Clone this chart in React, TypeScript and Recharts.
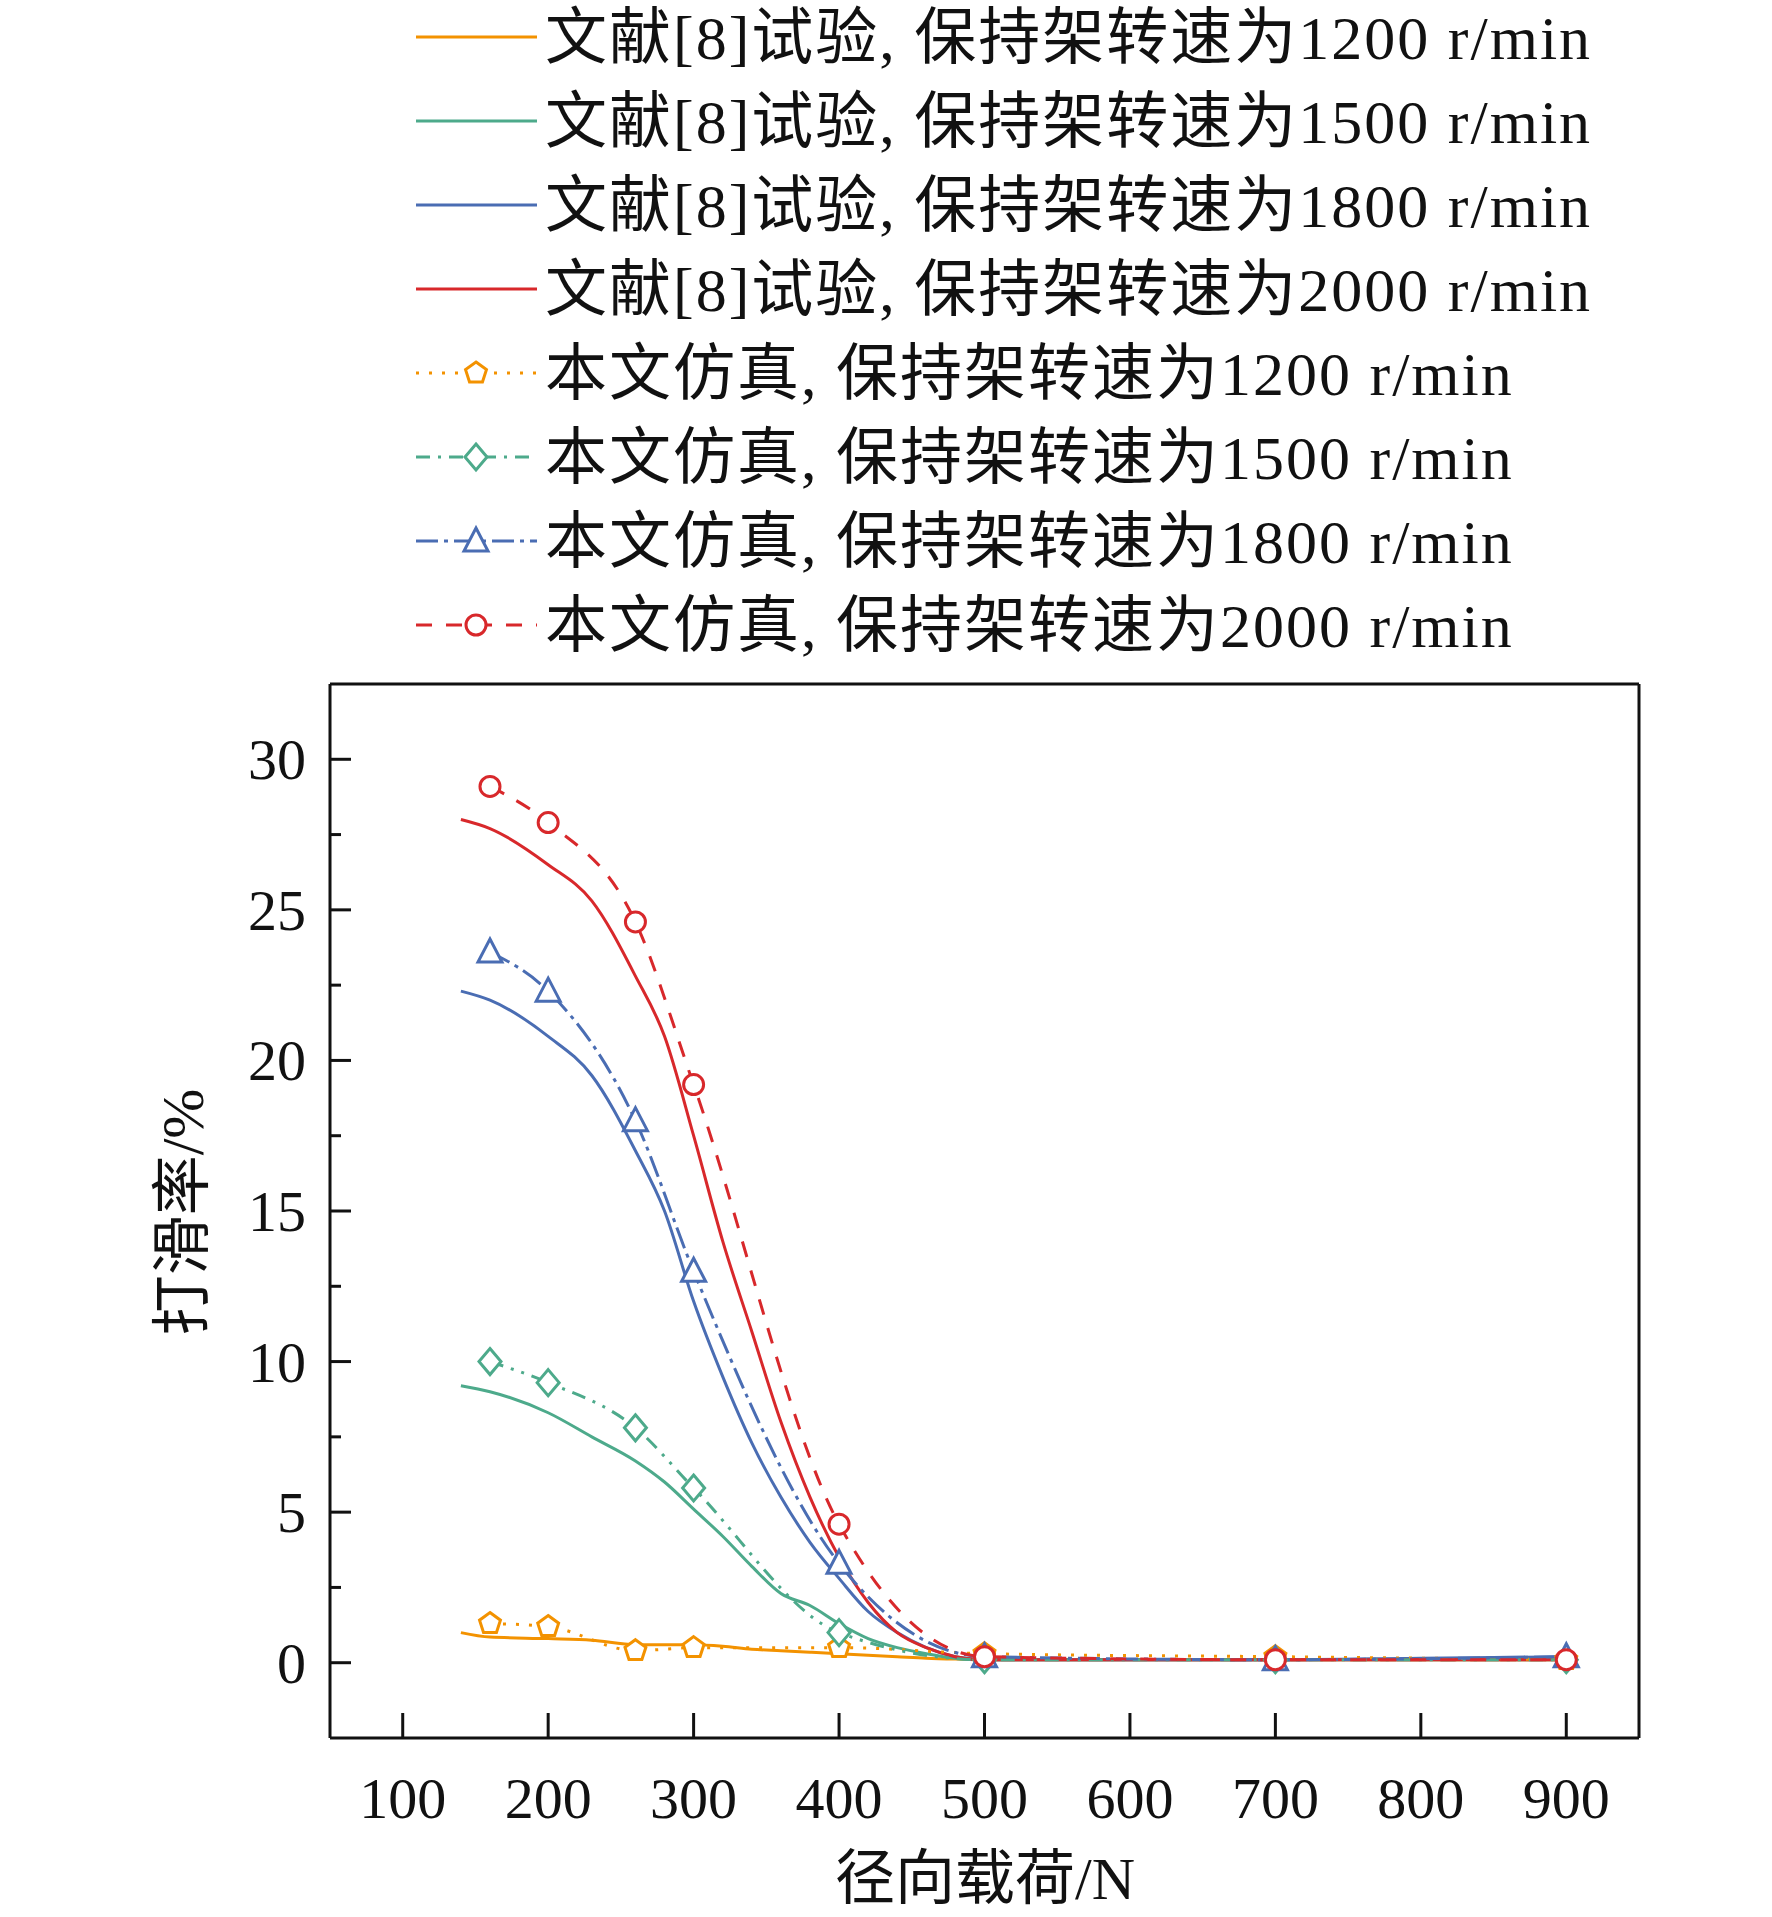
import React from 'react'
import { ComposedChart, Line, XAxis, YAxis } from 'recharts'

const simX = [160, 200, 260, 300, 400, 500, 700, 900]
const sim1200 = [1.3, 1.2, 0.4, 0.5, 0.5, 0.3, 0.2, 0.1]
const sim1500 = [10, 9.3, 7.8, 5.8, 1.0, 0.1, 0.1, 0.1]
const sim1800 = [23.6, 22.3, 18, 13, 3.3, 0.2, 0.1, 0.2]
const sim2000 = [29.1, 27.9, 24.6, 19.2, 4.6, 0.2, 0.1, 0.1]

const expX = [140, 160, 200, 230, 260, 280, 300, 320, 340, 360, 380, 400, 420, 440, 460, 480, 500, 600, 700, 800, 900]
const exp2000 = [28, 27.7, 26.5, 25.3, 22.8, 20.8, 17.5, 14, 11, 8, 5.5, 3.5, 2, 1, 0.5, 0.2, 0.1, 0.1, 0.1, 0.1, 0.1]
const exp1800 = [22.3, 22, 20.8, 19.5, 17, 15, 12, 9.5, 7.3, 5.5, 4, 2.8, 1.7, 1, 0.5, 0.2, 0.1, 0.1, 0.1, 0.15, 0.2]
const exp1500 = [9.2, 9, 8.3, 7.5, 6.7, 6, 5.1, 4.2, 3.2, 2.3, 1.9, 1.3, 0.8, 0.5, 0.3, 0.15, 0.1, 0.1, 0.1, 0.1, 0.1]
const exp1200 = [1, 0.85, 0.8, 0.75, 0.6, 0.6, 0.6, 0.55, 0.45, 0.4, 0.35, 0.3, 0.25, 0.2, 0.15, 0.12, 0.1, 0.1, 0.1, 0.1, 0.1]

const xTicks = [100, 200, 300, 400, 500, 600, 700, 800, 900]
const yTicks = [0, 2.5, 5, 7.5, 10, 12.5, 15, 17.5, 20, 22.5, 25, 27.5, 30]

const C1200 = '#F39200'
const C1500 = '#4DAA8B'
const C1800 = '#4A6DB3'
const C2000 = '#D8282B'

const FONT = '"Liberation Serif", "Noto Sans CJK SC", serif'
const zip = (xs: number[], ys: number[]) => xs.map((x, i) => ({ x, y: ys[i] }))

const LEFT = 330, RIGHT = 1639, TOP = 684, BOTTOM = 1738

type Marker = 'pentagon' | 'diamond' | 'triangle' | 'circle'
function shape(kind: Marker, cx: number, cy: number, color: string, key?: string) {
  const r = 11
  const common = { fill: '#fff', stroke: color, strokeWidth: 3 }
  if (kind === 'circle') return <circle key={key} cx={cx} cy={cy} r={r - 1} {...common} />
  if (kind === 'diamond') return <polygon key={key} points={`${cx},${cy - r - 2} ${cx + r},${cy} ${cx},${cy + r + 2} ${cx - r},${cy}`} {...common} />
  if (kind === 'triangle') return <polygon key={key} points={`${cx},${cy - r - 2} ${cx + r + 1},${cy + r - 1} ${cx - r - 1},${cy + r - 1}`} {...common} />
  const pts = [0, 1, 2, 3, 4].map(i => {
    const a = -Math.PI / 2 + (i * 2 * Math.PI) / 5
    return `${cx + r * Math.cos(a)},${cy + r * Math.sin(a)}`
  }).join(' ')
  return <polygon key={key} points={pts} {...common} />
}
const dot = (kind: Marker, color: string) => (p: any) => shape(kind, p.cx, p.cy, color, `${p.index}`)

const legendItems = [
  { label: '文献[8]试验, 保持架转速为1200 r/min', color: C1200, dash: undefined, m: null },
  { label: '文献[8]试验, 保持架转速为1500 r/min', color: C1500, dash: undefined, m: null },
  { label: '文献[8]试验, 保持架转速为1800 r/min', color: C1800, dash: undefined, m: null },
  { label: '文献[8]试验, 保持架转速为2000 r/min', color: C2000, dash: undefined, m: null },
  { label: '本文仿真, 保持架转速为1200 r/min', color: C1200, dash: '3 10', m: 'pentagon' },
  { label: '本文仿真, 保持架转速为1500 r/min', color: C1500, dash: '14 8 3 8', m: 'diamond' },
  { label: '本文仿真, 保持架转速为1800 r/min', color: C1800, dash: '22 6 4 6', m: 'triangle' },
  { label: '本文仿真, 保持架转速为2000 r/min', color: C2000, dash: '16 14', m: 'circle' },
] as const

function LegendBox() {
  return (
    <svg width={1772} height={660} style={{ position: 'absolute', left: 0, top: 0 }}>
      {legendItems.map((it, i) => {
        const y = 37 + i * 84
        return (
          <g key={i}>
            <line x1={416} x2={537} y1={y} y2={y} stroke={it.color} strokeWidth={3} strokeDasharray={it.dash} />
            {it.m && shape(it.m as Marker, 476, y, it.color)}
            <text x={545} y={y + 22} fontSize={62} letterSpacing={2} fontFamily={FONT} fill="#111">{it.label}</text>
          </g>
        )
      })}
    </svg>
  )
}

const YTick = (p: any) => {
  const v = p.payload.value
  const major = v % 5 === 0
  return (
    <g>
      <line x1={LEFT} x2={LEFT + (major ? 21 : 11)} y1={p.y} y2={p.y} stroke="#111" strokeWidth={3} />
      {major && <text x={LEFT - 24} y={p.y + 20} textAnchor="end" fontSize={58} fontFamily={FONT} fill="#111">{v}</text>}
    </g>
  )
}
const XTick = (p: any) => (
  <g>
    <line x1={p.x} x2={p.x} y1={BOTTOM} y2={BOTTOM - 25} stroke="#111" strokeWidth={3} />
    <text x={p.x} y={BOTTOM + 80} textAnchor="middle" fontSize={58} fontFamily={FONT} fill="#111">{p.payload.value}</text>
  </g>
)

export default function App() {
  return (
    <div style={{ position: 'absolute', left: 0, top: 0, width: 1772, height: 1917, background: '#fff' }}>
      <ComposedChart width={1772} height={1917} margin={{ top: TOP - 1, right: 1772 - RIGHT - 1, bottom: 1917 - BOTTOM - 1, left: LEFT - 1 }}>
        <XAxis xAxisId="b" type="number" dataKey="x" domain={[50, 950]} ticks={xTicks} tick={<XTick />} interval={0}
          tickLine={false} axisLine={{ stroke: '#111', strokeWidth: 3 }} height={1} allowDataOverflow />
        <XAxis xAxisId="t" orientation="top" type="number" domain={[50, 950]} tick={false} tickLine={false}
          axisLine={{ stroke: '#111', strokeWidth: 3 }} height={1} />
        <YAxis yAxisId="l" type="number" domain={[-2.5, 32.5]} ticks={yTicks} tick={<YTick />} interval={0}
          tickLine={false} axisLine={{ stroke: '#111', strokeWidth: 3 }} width={1} allowDataOverflow />
        <YAxis yAxisId="r" orientation="right" type="number" domain={[-2.5, 32.5]} tick={false} tickLine={false}
          axisLine={{ stroke: '#111', strokeWidth: 3 }} width={1} />

        <Line xAxisId="b" yAxisId="l" data={zip(expX, exp1200)} dataKey="y" type="monotone" stroke={C1200} strokeWidth={3} dot={false} isAnimationActive={false} />
        <Line xAxisId="b" yAxisId="l" data={zip(expX, exp1500)} dataKey="y" type="monotone" stroke={C1500} strokeWidth={3} dot={false} isAnimationActive={false} />
        <Line xAxisId="b" yAxisId="l" data={zip(expX, exp1800)} dataKey="y" type="monotone" stroke={C1800} strokeWidth={3} dot={false} isAnimationActive={false} />
        <Line xAxisId="b" yAxisId="l" data={zip(expX, exp2000)} dataKey="y" type="monotone" stroke={C2000} strokeWidth={3} dot={false} isAnimationActive={false} />

        <Line xAxisId="b" yAxisId="l" data={zip(simX, sim1200)} dataKey="y" type="monotone" stroke={C1200} strokeWidth={3} strokeDasharray="3 10" dot={dot('pentagon', C1200)} isAnimationActive={false} />
        <Line xAxisId="b" yAxisId="l" data={zip(simX, sim1500)} dataKey="y" type="monotone" stroke={C1500} strokeWidth={3} strokeDasharray="14 8 3 8 3 8" dot={dot('diamond', C1500)} isAnimationActive={false} />
        <Line xAxisId="b" yAxisId="l" data={zip(simX, sim1800)} dataKey="y" type="monotone" stroke={C1800} strokeWidth={3} strokeDasharray="22 6 4 6" dot={dot('triangle', C1800)} isAnimationActive={false} />
        <Line xAxisId="b" yAxisId="l" data={zip(simX, sim2000)} dataKey="y" type="monotone" stroke={C2000} strokeWidth={3} strokeDasharray="16 14" dot={dot('circle', C2000)} isAnimationActive={false} />
      </ComposedChart>
      <LegendBox />
      <div style={{ position: 'absolute', left: 176, top: 1212, transform: 'translate(-50%,-50%) rotate(-90deg)', fontFamily: FONT, fontSize: 60, whiteSpace: 'nowrap', color: '#111' }}>打滑率/%</div>
      <div style={{ position: 'absolute', left: 985, top: 1872, transform: 'translate(-50%,-50%)', fontFamily: FONT, fontSize: 60, whiteSpace: 'nowrap', color: '#111' }}>径向载荷/N</div>
    </div>
  )
}
